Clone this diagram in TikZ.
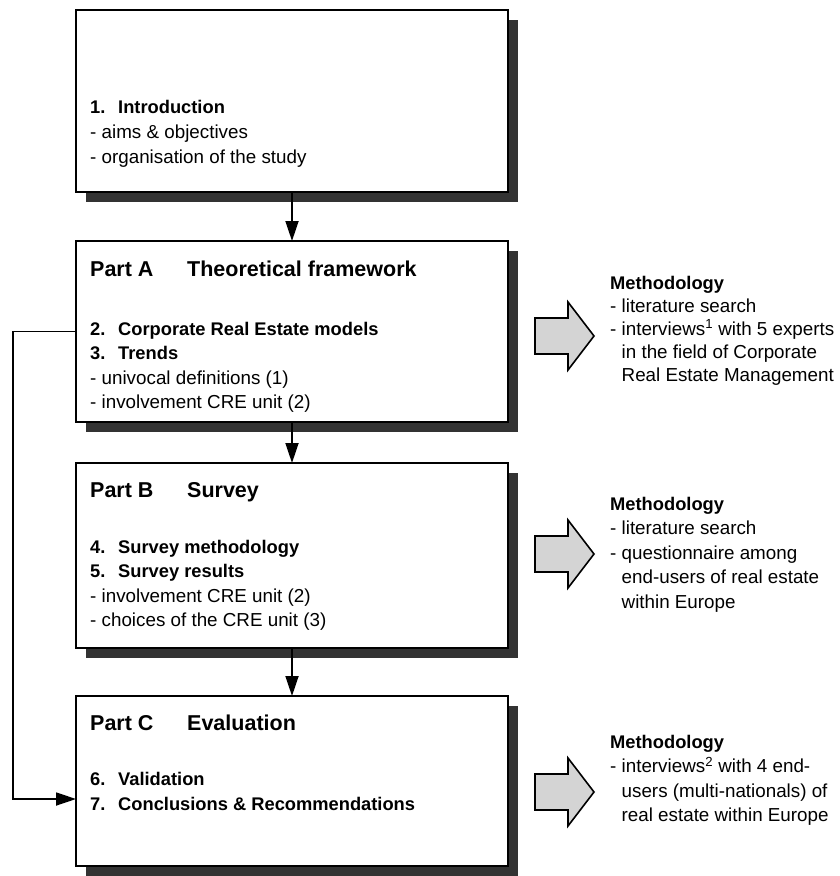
\documentclass[tikz,border=0pt]{standalone}
\usepackage{fontspec}
\setmainfont{Liberation Sans}
\usetikzlibrary{arrows.meta,shadows}
\newcommand\numtab[1]{\makebox[28pt][l]{#1}}
\newcommand\parttab[1]{\makebox[97pt][l]{#1}}
\begin{document}
\begin{tikzpicture}[x=1pt,y=-1pt,
  box/.style={draw, line width=1.8pt, fill=white, inner sep=0pt, outer sep=0pt,
    anchor=north west, minimum width=432pt,
    drop shadow={shadow xshift=10pt, shadow yshift=-10pt, fill=black!80, opacity=1}},
  txt/.style={anchor=base west, inner sep=0pt, font=\fontsize{18.8}{22}\selectfont},
  hd/.style={anchor=base west, inner sep=0pt, font=\bfseries\fontsize{18.3}{22}\selectfont},
  parthd/.style={anchor=base west, inner sep=0pt, font=\bfseries\fontsize{21.5}{26}\selectfont},
  flow/.style={line width=1.8pt, -{Triangle[length=20pt,width=13pt]}},
  methodarrow/.pic={\draw[line width=1.6pt, fill=black!17, line join=miter]
    (-29.5,-18) -- (3.5,-18) -- (3.5,-34) -- (29.5,0) -- (3.5,34) -- (3.5,18) -- (-29.5,18) -- cycle;}
]
\useasboundingbox (0,0) rectangle (839,876);

% chapter boxes
\node[box, minimum height=182pt] (intro) at (76,10) {};
\node[box, minimum height=181pt] (partA) at (76,241) {};
\node[box, minimum height=185pt] (partB) at (76,463) {};
\node[box, minimum height=170pt] (partC) at (76,696) {};

% introduction
\node[hd]  (introT)  at (90,113) {\numtab{1.}Introduction};
\node[txt] (introL1) at (90,138) {- aims \& objectives};
\node[txt] (introL2) at (90,163) {- organisation of the study};

% part A
\node[parthd] (aT)  at (90,276)   {\parttab{Part A}Theoretical framework};
\node[hd]     (aS2) at (90,335)   {\numtab{2.}Corporate Real Estate models};
\node[hd]     (aS3) at (90,359.5) {\numtab{3.}Trends};
\node[txt]    (aL1) at (90,384)   {- univocal definitions (1)};
\node[txt]    (aL2) at (90,408)   {- involvement CRE unit (2)};

% part B
\node[parthd] (bT)  at (90,497)   {\parttab{Part B}Survey};
\node[hd]     (bS4) at (90,553)   {\numtab{4.}Survey methodology};
\node[hd]     (bS5) at (90,577.5) {\numtab{5.}Survey results};
\node[txt]    (bL1) at (90,602)   {- involvement CRE unit (2)};
\node[txt]    (bL2) at (90,626.5) {- choices of the CRE unit (3)};

% part C
\node[parthd] (cT)  at (90,730) {\parttab{Part C}Evaluation};
\node[hd]     (cS6) at (90,785) {\numtab{6.}Validation};
\node[hd]     (cS7) at (90,810) {\numtab{7.}Conclusions \& Recommendations};

% flow between the parts
\draw[flow] (intro.south) -- (partA.north);
\draw[flow] (partA.south) -- (partB.north);
\draw[flow] (partB.south) -- (partC.north);
\coordinate (fbcorner) at (13,799);
\draw[flow] (partA.west) -| (fbcorner) -- (partC.west |- fbcorner);

% methodology arrows
\pic (mA) at (564.5,336) {methodarrow};
\pic (mB) at (564.5,554) {methodarrow};
\pic (mC) at (564.5,792) {methodarrow};

% methodology of part A
\node[hd]  (mAT)  at (610,289) {Methodology};
\node[txt] (mAL1) at (610,312) {- literature search};
\node[txt] (mAL2) at (610,335) {- interviews\textsuperscript{1} with 5 experts};
\node[txt] (mAL3) at (610,358) {\phantom{- }in the field of Corporate};
\node[txt] (mAL4) at (610,381) {\phantom{- }Real Estate Management};

% methodology of part B
\node[hd]  (mBT)  at (610,510)   {Methodology};
\node[txt] (mBL1) at (610,534.5) {- literature search};
\node[txt] (mBL2) at (610,559)   {- questionnaire among};
\node[txt] (mBL3) at (610,583.5) {\phantom{- }end-users of real estate};
\node[txt] (mBL4) at (610,608)   {\phantom{- }within Europe};

% methodology of part C
\node[hd]  (mCT)  at (610,748)   {Methodology};
\node[txt] (mCL1) at (610,772.5) {- interviews\textsuperscript{2} with 4 end-};
\node[txt] (mCL2) at (610,797)   {\phantom{- }users (multi-nationals) of};
\node[txt] (mCL3) at (610,821.5) {\phantom{- }real estate within Europe};
\end{tikzpicture}
\end{document}
